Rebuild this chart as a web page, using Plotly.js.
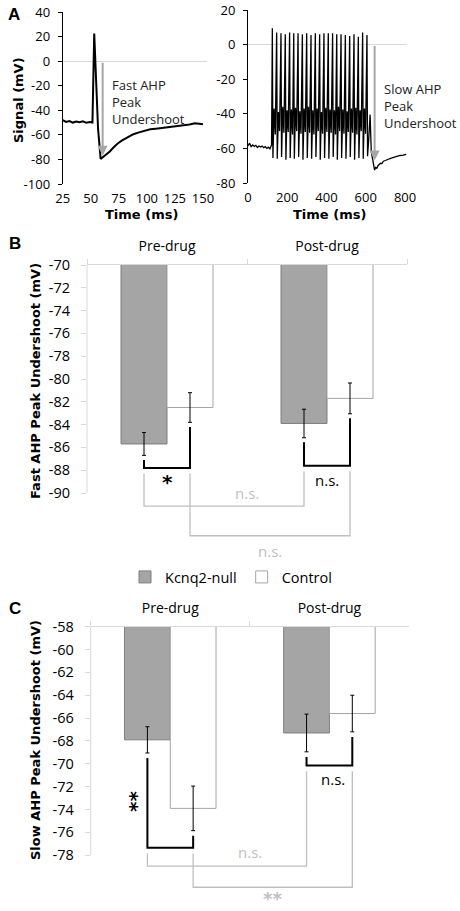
<!DOCTYPE html>
<html><head><meta charset="utf-8">
<script src="https://cdn.plot.ly/plotly-3.0.1.min.js"></script>
<style>html,body{margin:0;padding:0;background:#fff;}#chart{width:460px;height:911px;}</style>
</head><body><div id="chart"></div>
<script>
// ---------- DATA ----------
// Panel A (left): fast AHP example trace
const fastTime = [25, 28, 31, 34, 37, 40, 43, 46, 49, 51.5, 53.1, 54.2, 56.5, 58.8, 61, 64, 67, 70, 74, 78, 83, 88, 93, 98, 103, 108, 113, 118, 123, 128, 133, 138, 143, 147, 150];
const fastSignal = [-48, -49.5, -48.8, -50, -49.2, -49.8, -49, -50.2, -49.6, -50, 22.5, 0, -55, -79.6, -78, -76, -73.5, -70.5, -67, -64.5, -62, -59.5, -58, -56.5, -55.5, -55, -54.5, -54, -53.5, -52.5, -52.5, -51.5, -50.5, -50.8, -51.3];
// Panel A (right): slow AHP example trace (spike train)
const slowTime = [0, 8, 16, 24, 32, 40, 48, 56, 64, 72, 80, 88, 96, 104, 112, 120,
  124, 127, 133, 139,
  146, 149, 155, 161,
  168, 171, 177, 183,
  190, 193, 199, 205,
  212, 215, 221, 227,
  233, 236, 242, 248,
  255, 258, 264, 270,
  277, 280, 286, 292,
  299, 302, 308, 314,
  321, 324, 330, 336,
  343, 346, 352, 358,
  365, 368, 374, 380,
  387, 390, 396, 402,
  409, 412, 418, 424,
  431, 434, 440, 446,
  452, 455, 461, 467,
  474, 477, 483, 489,
  496, 499, 505, 511,
  518, 521, 527, 533,
  540, 543, 549, 555,
  562, 565, 571, 577,
  584, 587, 593, 599,
  606, 609,
  615, 622, 628, 634, 640, 645, 650, 656, 662, 668, 675, 682, 690, 700, 710, 720, 730, 745, 760, 775, 790, 806];
const slowSignal = [-58.5, -57, -59, -58, -58.8, -58.2, -59.5, -58.6, -59.2, -58.7, -59.6, -59, -60, -59.3, -60.2, -58,
  9.5, -65.5, -37, -52,
  7, -66, -39, -50,
  6.5, -65, -36, -51,
  6, -66.5, -38, -50.5,
  7, -65.5, -37.5, -52,
  6.5, -66, -36.5, -50,
  6.5, -65, -38.5, -51.5,
  6, -66.5, -37, -50.5,
  6.5, -65.5, -36, -51,
  5.5, -66, -38, -52,
  6.5, -65, -37, -50,
  6, -66.5, -39, -51.5,
  6.5, -65.5, -36.5, -50.5,
  6.5, -66, -37.5, -51,
  6.5, -65, -38, -52,
  6, -66.5, -36, -50,
  6, -65.5, -37.5, -51.5,
  5.5, -66, -38.5, -50.5,
  5, -65, -37, -51,
  6, -66.5, -36.5, -52,
  4.5, -65.5, -38, -50,
  7, -66, -37, -51.5,
  5.5, -64.5,
  -55, -40.5, -62, -66, -71, -72.5, -71, -71.5, -70, -69.2, -68.6, -68.8, -67.4, -67, -66.3, -66, -65.6, -65, -64.7, -64.1, -63.9, -63.4];
const fastArrow = {t: 60.6, from: 0, to: -77};
const slowArrow = {t: 645, from: 0, to: -67};

// Panels B and C: group means and SEM
const groups = ['Pre-drug', 'Post-drug'];
const seriesNames = ['Kcnq2-null', 'Control'];
const fastKcnq2 = [-85.7, -83.9];
const fastKcnq2Err = [1.0, 1.25];
const fastControl = [-82.5, -81.7];
const fastControlErr = [1.3, 1.35];
const slowKcnq2 = [-67.9, -67.3];
const slowKcnq2Err = [1.15, 1.65];
const slowControl = [-73.9, -65.6];
const slowControlErr = [1.95, 1.6];

// Tick labels
const fastXTicks = [25, 50, 75, 100, 125, 150];
const fastYTicks = [40, 20, 0, -20, -40, -60, -80, -100];
const slowXTicks = [0, 200, 400, 600, 800];
const slowYTicks = [20, 0, -20, -40, -60, -80];
const barFastTicks = [-70, -72, -74, -76, -78, -80, -82, -84, -86, -88, -90];
const barSlowTicks = [-58, -60, -62, -64, -66, -68, -70, -72, -74, -76, -78];

// ---------- LAYOUT HELPERS ----------
const W = 460, H = 911;
const px = x => x / W;
const py = y => 1 - y / H;
const BARGAP = 0.425;
const off = (1 - BARGAP) / 4; // bar centre offset from category centre
const GRAY = '#bfbfbf', AXGRAY = '#d9d9d9';
const tickFontA = {family: 'Open Sans', size: 13, color: '#000'};
const tickFontB = {family: 'Open Sans', size: 14.5, color: '#000'};
const titleFont = {family: 'DejaVu Sans', size: 13, color: '#000', weight: 'bold'};

const traces = [
  {type: 'scatter', mode: 'lines', x: fastTime, y: fastSignal, xaxis: 'x', yaxis: 'y',
   line: {color: '#000', width: 2}, showlegend: false, hoverinfo: 'skip'},
  {type: 'scatter', mode: 'lines', x: slowTime, y: slowSignal, xaxis: 'x2', yaxis: 'y2',
   line: {color: '#000', width: 1.3}, showlegend: false, hoverinfo: 'skip'}
];
function barPair(ax, ay, k, kErr, c, cErr, show) {
  traces.push({type: 'bar', x: groups, y: k, name: seriesNames[0], xaxis: ax, yaxis: ay,
    legendgroup: 'k', showlegend: show,
    marker: {color: '#a5a5a5', line: {color: '#7f7f7f', width: 1}},
    error_y: {type: 'data', array: kErr, color: '#000', thickness: 1, width: 2}});
  traces.push({type: 'bar', x: groups, y: c, name: seriesNames[1], xaxis: ax, yaxis: ay,
    legendgroup: 'c', showlegend: show,
    marker: {color: '#ffffff', line: {color: '#a5a5a5', width: 1}},
    error_y: {type: 'data', array: cErr, color: '#000', thickness: 1, width: 2}});
}
barPair('x3', 'y3', fastKcnq2, fastKcnq2Err, fastControl, fastControlErr, true);
barPair('x4', 'y4', slowKcnq2, slowKcnq2Err, slowControl, slowControlErr, false);

const shapes = [];
const annotations = [];
function bracket(xr, yr, x0, x1, y0, y1, yb, color, w) {
  shapes.push({type: 'path', xref: xr, yref: yr,
    path: `M${x0},${y0} L${x0},${yb} L${x1},${yb} L${x1},${y1}`,
    line: {color: color, width: w}});
}
function label(xr, yr, x, y, text, font, extra) {
  annotations.push(Object.assign({xref: xr, yref: yr, x: x, y: y, text: text, showarrow: false,
    font: font, xanchor: 'center', yanchor: 'middle'}, extra || {}));
}
function comparisons(xr, yr, k, kErr, c, cErr, blackBot, grayBot, gap, sigText, sigAt, grayTexts) {
  // within-group brackets (black)
  for (let g = 0; g < 2; g++) {
    bracket(xr, yr, g - off, g + off, k[g] - kErr[g] - gap, c[g] - cErr[g] - gap, blackBot[g], '#000', 2);
  }
  // between-group brackets (gray)
  bracket(xr, yr, -off, 1 - off, blackBot[0] - 0.5, blackBot[1] - 0.5, grayBot[0], GRAY, 1.3);
  bracket(xr, yr, off, 1 + off, blackBot[0] - 0.5, blackBot[1] - 0.5, grayBot[1], GRAY, 1.3);
  sigText.forEach((s, i) => label(xr, yr, sigAt[i][0], sigAt[i][1], s.t, s.f, s.e));
  grayTexts.forEach((s, i) => label(xr, yr, s.x, s.y, s.t, s.f));
}
const nsFont = {family: 'Open Sans', size: 15, color: '#000'};
const nsGray = {family: 'Open Sans', size: 15, color: GRAY};
const starFont = {family: 'DejaVu Sans', size: 20, color: '#000', weight: 'bold'};
const starGray = {family: 'DejaVu Sans', size: 18, color: GRAY, weight: 'bold'};

comparisons('x3', 'y3', fastKcnq2, fastKcnq2Err, fastControl, fastControlErr,
  [-87.8, -87.6], [-91.15, -93.75], 0.4,
  [{t: '*', f: starFont}, {t: 'n.s.', f: nsFont}],
  [[0, -89.0], [1, -88.9]],
  [{x: 0.5, y: -90.0, t: 'n.s.', f: nsGray}, {x: 0.5 + off, y: -95.1, t: 'n.s.', f: nsGray}]);
comparisons('x4', 'y4', slowKcnq2, slowKcnq2Err, slowControl, slowControlErr,
  [-77.35, -70.15], [-78.95, -80.8], 0.45,
  [{t: '**', f: starFont, e: {textangle: -90}}, {t: 'n.s.', f: nsFont}],
  [[-off - 0.075, -73.3], [1.02, -71.35]],
  [{x: 0.5, y: -77.75, t: 'n.s.', f: nsGray}, {x: 0.5 + off, y: -81.75, t: '**', f: starGray}]);

// y-axis lines of the bar panels (only over the labelled range)
shapes.push({type: 'line', xref: 'paper', yref: 'y3', x0: px(87), x1: px(87), y0: -70, y1: -90, line: {color: AXGRAY, width: 1}});
shapes.push({type: 'line', xref: 'paper', yref: 'y4', x0: px(90.7), x1: px(90.7), y0: -58, y1: -78, line: {color: AXGRAY, width: 1}});

// Panel A arrows and text
annotations.push({xref: 'x', yref: 'y', axref: 'x', ayref: 'y', x: fastArrow.t, y: fastArrow.to,
  ax: fastArrow.t, ay: fastArrow.from, text: '', showarrow: true, arrowhead: 2, arrowsize: 1,
  arrowwidth: 2, arrowcolor: '#a6a6a6'});
annotations.push({xref: 'x2', yref: 'y2', axref: 'x2', ayref: 'y2', x: slowArrow.t, y: slowArrow.to,
  ax: slowArrow.t, ay: slowArrow.from, text: '', showarrow: true, arrowhead: 2, arrowsize: 1,
  arrowwidth: 2, arrowcolor: '#a6a6a6'});
const noteFont = {family: 'Open Sans', size: 13, color: '#222'};
annotations.push({xref: 'paper', yref: 'paper', x: px(110), y: py(74), xanchor: 'left', yanchor: 'top', align: 'left',
  text: 'Fast AHP<br>Peak<br>Undershoot', showarrow: false, font: noteFont});
annotations.push({xref: 'paper', yref: 'paper', x: px(382), y: py(78), xanchor: 'left', yanchor: 'top', align: 'left',
  text: 'Slow AHP<br>Peak<br>Undershoot', showarrow: false, font: noteFont});

// Titles & panel letters
label('paper', 'paper', px(19), py(100), 'Signal (mV)', titleFont, {textangle: -90});
label('paper', 'paper', px(141), py(215), 'Time (ms)', titleFont);
label('paper', 'paper', px(329), py(215), 'Time (ms)', titleFont);
label('paper', 'paper', px(36), py(381), 'Fast AHP Peak Undershoot (mV)', titleFont, {textangle: -90});
label('paper', 'paper', px(35), py(740), 'Slow AHP Peak Undershoot (mV)', titleFont, {textangle: -90});
const letterFont = {family: 'Liberation Sans', size: 17, color: '#000', weight: 'bold'};
label('paper', 'paper', px(14), py(15), 'A', letterFont);
label('paper', 'paper', px(14.5), py(243), 'B', letterFont);
label('paper', 'paper', px(14.5), py(608), 'C', letterFont);

const catAxis = (dom) => ({domain: dom, side: 'top', type: 'category', tickson: 'boundaries',
  showline: true, linecolor: AXGRAY, linewidth: 1, ticks: 'outside', ticklen: 5, tickcolor: AXGRAY,
  showgrid: false, zeroline: false, tickfont: {family: 'Open Sans', size: 14, color: '#000'},
  ticklabelstandoff: 7, fixedrange: true});
const barY = (dom, range, anchor, ticks) => ({domain: dom, range: range, anchor: anchor,
  showline: false, showgrid: false, zeroline: false, ticks: 'outside', ticklen: 5, tickcolor: AXGRAY,
  tickvals: ticks, ticktext: ticks.map(String), tickfont: tickFontB, ticklabelstandoff: 8, fixedrange: true});

const layout = {
  width: W, height: H, margin: {l: 0, r: 0, t: 0, b: 0},
  paper_bgcolor: '#fff', plot_bgcolor: 'rgba(0,0,0,0)',
  font: {family: 'DejaVu Sans', color: '#000'},
  barmode: 'group', bargap: BARGAP, bargroupgap: 0,
  xaxis: {domain: [px(62.7), px(207)], range: [25, 153.6], anchor: 'y', showline: false, ticks: '',
    showgrid: false, zeroline: false, tickvals: fastXTicks, ticktext: fastXTicks.map(String),
    tickfont: tickFontA, ticklabelstandoff: 5, fixedrange: true},
  yaxis: {domain: [py(184), py(12)], range: [-100, 40], anchor: 'x', showline: true, linecolor: '#000',
    linewidth: 1, ticks: 'outside', ticklen: 4, tickcolor: '#000', showgrid: false, zeroline: true,
    zerolinecolor: AXGRAY, zerolinewidth: 1, tickvals: fastYTicks, ticktext: fastYTicks.map(String),
    tickfont: tickFontA, ticklabelstandoff: 5, fixedrange: true},
  xaxis2: {domain: [px(248), px(407)], range: [0, 810], anchor: 'y2', showline: false, ticks: '',
    showgrid: false, zeroline: false, tickvals: slowXTicks, ticktext: slowXTicks.map(String),
    tickfont: tickFontA, ticklabelstandoff: 5, fixedrange: true},
  yaxis2: {domain: [py(183), py(10)], range: [-80, 20], anchor: 'x2', showline: true, linecolor: '#000',
    linewidth: 1, ticks: 'outside', ticklen: 4, tickcolor: '#000', showgrid: false, zeroline: true,
    zerolinecolor: AXGRAY, zerolinewidth: 1, tickvals: slowYTicks, ticktext: slowYTicks.map(String),
    tickfont: tickFontA, ticklabelstandoff: 5, fixedrange: true},
  xaxis3: Object.assign(catAxis([px(87), px(407)]), {anchor: 'y3'}),
  yaxis3: barY([py(561.4), py(265)], [-96, -70], 'x3', barFastTicks),
  xaxis4: Object.assign(catAxis([px(90.7), px(409)]), {anchor: 'y4'}),
  yaxis4: barY([0, py(626.7)], [-82.88, -58], 'x4', barSlowTicks),
  showlegend: true,
  legend: {orientation: 'h', x: px(231), xanchor: 'center', y: py(577), yanchor: 'middle',
    font: {family: 'Open Sans', size: 14.5, color: '#000'}, bgcolor: 'rgba(0,0,0,0)', traceorder: 'normal'},
  shapes: shapes, annotations: annotations
};
Plotly.newPlot('chart', traces, layout, {displayModeBar: false, staticPlot: true});
</script></body></html>
